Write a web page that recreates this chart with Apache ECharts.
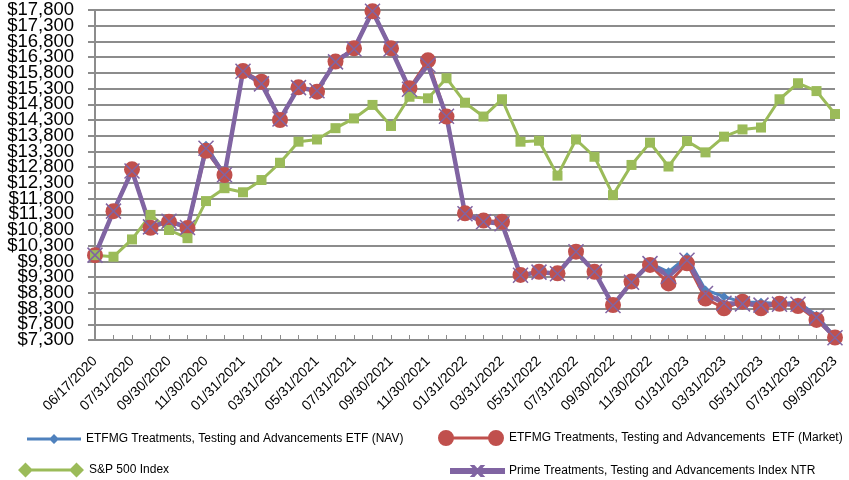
<!DOCTYPE html>
<html>
<head>
<meta charset="utf-8">
<script src="https://cdn.jsdelivr.net/npm/echarts@6/dist/echarts.min.js"></script>
<style>
  html, body { margin: 0; padding: 0; background: #fff; }
  #chart { width: 849px; height: 480px; }
</style>
</head>
<body>
<div id="chart"></div>
<script>
// month-end dates (first point is the fund launch)
const dates = [
  '06/17/2020', '06/30/2020', '07/31/2020', '08/31/2020', '09/30/2020', '10/31/2020',
  '11/30/2020', '12/31/2020', '01/31/2021', '02/28/2021', '03/31/2021', '04/30/2021',
  '05/31/2021', '06/30/2021', '07/31/2021', '08/31/2021', '09/30/2021', '10/31/2021',
  '11/30/2021', '12/31/2021', '01/31/2022', '02/28/2022', '03/31/2022', '04/30/2022',
  '05/31/2022', '06/30/2022', '07/31/2022', '08/31/2022', '09/30/2022', '10/31/2022',
  '11/30/2022', '12/31/2022', '01/31/2023', '02/28/2023', '03/31/2023', '04/30/2023',
  '05/31/2023', '06/30/2023', '07/31/2023', '08/31/2023', '09/30/2023'
]

// y tick labels ($ value of a $10,000 investment)
const yTicks = [
  7300, 7800, 8300, 8800, 9300, 9800, 10300, 10800, 11300, 11800, 12300,
  12800, 13300, 13800, 14300, 14800, 15300, 15800, 16300, 16800, 17300, 17800
]

const navValues = [
  10000, 11400, 12700, 10900, 11080, 10880, 13500, 12560, 15850, 15450, 14330, 15330,
  15230, 16150, 16560, 17760, 16560, 15280, 16050, 14420, 11320, 11060, 11000, 9360,
  9470, 9410, 10110, 9470, 8400, 9150, 9740, 9470, 9950, 8890, 8680, 8500,
  8500, 8450, 8510, 8090, 7390
]

const marketValues = [
  10000, 11400, 12730, 10870, 11060, 10860, 13320, 12550, 15860, 15520, 14300, 15340,
  15200, 16160, 16580, 17760, 16580, 15310, 16200, 14410, 11330, 11100, 11060, 9370,
  9470, 9420, 10110, 9470, 8410, 9160, 9690, 9100, 9740, 8620, 8310, 8520,
  8310, 8450, 8380, 7940, 7380
]

const sp500Values = [
  10000, 9950, 10500, 11280, 10800, 10540, 11720, 12130, 12000, 12390, 12940, 13610,
  13680, 14040, 14350, 14780, 14110, 15040, 14990, 15630, 14850, 14410, 14960, 13610,
  13640, 12530, 13680, 13130, 11910, 12870, 13580, 12820, 13630, 13270, 13770, 14000,
  14060, 14960, 15470, 15220, 14490
]

const indexValues = [
  10000, 11400, 12680, 10900, 11080, 10880, 13400, 12560, 15850, 15450, 14330, 15330,
  15230, 16150, 16560, 17760, 16560, 15280, 16050, 14420, 11320, 11060, 11000, 9360,
  9460, 9410, 10110, 9470, 8400, 9140, 9730, 9330, 9840, 8780, 8470, 8450,
  8410, 8440, 8440, 8020, 7370
]

const seriesNames = [
  'ETFMG Treatments, Testing and Advancements ETF (NAV)',
  'ETFMG Treatments, Testing and Advancements  ETF (Market)',
  'S&P 500 Index',
  'Prime Treatments, Testing and Advancements Index NTR'
]

const BLUE = '#4F81BD'
const RED = '#C0504D'
const GREEN = '#9BBB59'
const PURPLE = '#8064A2'
const GRID = '#8c8c8c'

// legend icons drawn Excel-style (line + markers)
const iconNav = 'path://M0,3.5H54V6.5H0Z M27,0L32,5L27,10L22,5Z'
const iconMarket = 'path://M0,8A8,8 0 1,1 16,8A8,8 0 1,1 0,8Z M8,6.5H58V9.5H8Z M50,8A8,8 0 1,1 66,8A8,8 0 1,1 50,8Z'
const iconSp = 'path://M0,7.5L7.5,0L15,7.5L7.5,15Z M7.5,6H58.5V9H7.5Z M51,7.5L58.5,0L66,7.5L58.5,15Z'
const iconIndex = 'path://M0,3H53V7H0Z M21,0L23,0L32,10L30,10Z M30,0L32,0L23,10L21,10Z'

const legendText = { color: '#000', fontSize: 12, fontFamily: 'Liberation Sans' }
const fmtDollar = v => '$' + v.toLocaleString('en-US')

const chart = echarts.init(document.getElementById('chart'))

const option = {
  animation: false,
  grid: { left: 95, right: 14, top: 10, bottom: 140, containLabel: false },
  legend: [
    { data: [{ name: seriesNames[0], icon: iconNav }], left: 27, top: 433, padding: 0,
      itemWidth: 54, itemHeight: 10, textStyle: legendText, selectedMode: false },
    { data: [{ name: seriesNames[1], icon: iconMarket }], left: 438, top: 430, padding: 0,
      itemWidth: 66, itemHeight: 16, textStyle: legendText, selectedMode: false },
    { data: [{ name: seriesNames[2], icon: iconSp }], left: 18, top: 462.5, padding: 0,
      itemWidth: 66, itemHeight: 15, textStyle: legendText, selectedMode: false },
    { data: [{ name: seriesNames[3], icon: iconIndex }], left: 450, top: 465, padding: 0,
      itemWidth: 53, itemHeight: 10, textStyle: legendText, selectedMode: false }
  ],
  xAxis: {
    type: 'category',
    data: dates,
    boundaryGap: false,
    axisLine: { lineStyle: { color: GRID, width: 2 } },
    axisTick: { show: true, inside: true, length: 5, interval: 0, lineStyle: { color: GRID, width: 1 } },
    axisLabel: {
      interval: 1,
      rotate: 45,
      margin: 19,
      color: '#000',
      fontSize: 14,
      fontFamily: 'Liberation Sans'
    },
    splitLine: { show: false }
  },
  yAxis: {
    type: 'value',
    min: yTicks[0],
    max: yTicks[yTicks.length - 1],
    interval: 500,
    axisLine: { show: true, lineStyle: { color: GRID, width: 2 } },
    axisTick: { show: true, length: 7, lineStyle: { color: GRID, width: 2 } },
    // labels are crowded (Excel style) and ECharts would drop some; drawn below instead
    axisLabel: { show: false },
    splitLine: { show: true, lineStyle: { color: GRID, width: 2 } }
  },
  series: [
    {
      name: seriesNames[0],
      type: 'line',
      data: navValues,
      symbol: 'diamond',
      symbolSize: 9,
      showAllSymbol: true,
      lineStyle: { color: BLUE, width: 3 },
      itemStyle: { color: BLUE }
    },
    {
      name: seriesNames[1],
      type: 'line',
      data: marketValues,
      symbol: 'circle',
      symbolSize: 16,
      showAllSymbol: true,
      lineStyle: { color: RED, width: 3 },
      itemStyle: { color: RED }
    },
    {
      name: seriesNames[2],
      type: 'line',
      data: sp500Values,
      symbol: 'rect',
      symbolSize: 10,
      showAllSymbol: true,
      lineStyle: { color: GREEN, width: 3 },
      itemStyle: { color: GREEN }
    },
    {
      name: seriesNames[3],
      type: 'line',
      data: indexValues,
      symbol: 'path://M0,0L16,16M16,0L0,16',
      symbolSize: 15,
      showAllSymbol: true,
      lineStyle: { color: PURPLE, width: 4.5 },
      itemStyle: { color: PURPLE, borderColor: PURPLE, borderWidth: 1.5 }
    }
  ]
}

chart.setOption(option)

// y labels placed from the axis scale
const axisX = chart.convertToPixel({ xAxisIndex: 0 }, dates[0])
chart.setOption({
  graphic: yTicks.map(v => ({
    type: 'text',
    x: axisX - 21,
    y: chart.convertToPixel({ yAxisIndex: 0 }, v),
    style: {
      text: fmtDollar(v),
      align: 'right',
      verticalAlign: 'middle',
      fill: '#000',
      fontSize: 18.5,
      fontFamily: 'Liberation Sans'
    }
  }))
})
</script>
</body>
</html>
